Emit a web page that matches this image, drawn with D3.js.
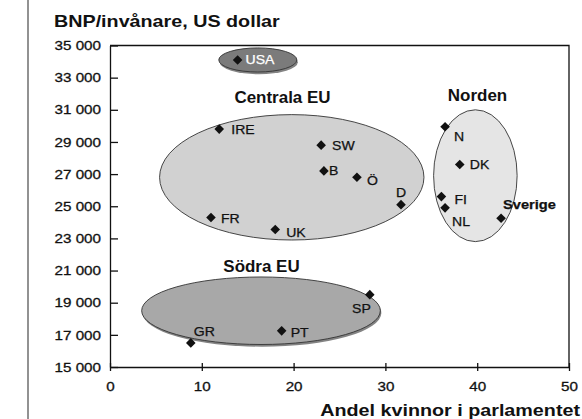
<!DOCTYPE html>
<html>
<head>
<meta charset="utf-8">
<script src="https://cdn.jsdelivr.net/npm/d3@7"></script>
<style>
  html, body { margin: 0; padding: 0; background: #fff; }
  svg { display: block; font-family: "Liberation Sans", Arial, sans-serif; }
  text { paint-order: stroke; }
</style>
</head>
<body>
<svg id="chart" width="582" height="419"></svg>
<script>
// GDP per capita vs. share of women in parliament
const countries    = ["USA", "IRE", "FR", "UK", "SW", "B", "Ö", "D", "N", "DK", "FI", "NL", "Sverige", "GR", "PT", "SP"];
const womenShare   = [13.9, 11.9, 11.0, 18.0, 23.0, 23.3, 26.9, 31.7, 36.5, 38.1, 36.1, 36.5, 42.6, 8.8, 18.7, 28.3];
const gdpPerCapita = [34100, 29800, 24300, 23550, 28800, 27200, 26800, 25100, 29950, 27600, 25600, 24900, 24250, 16500, 17250, 19500];

// Country groups, outlined by ellipses (centre and half-axes in data units)
const groupNames  = ["", "Centrala EU", "Norden", "Södra EU"];
const groupCx     = [16.1, 19.8, 39.8, 16.45];
const groupCy     = [34100, 26800, 26900, 18500];
const groupRx     = [4.25, 14.4, 4.55, 13.0];
const groupRy     = [750, 3900, 4100, 2100];

const xTicks = [0, 10, 20, 30, 40, 50];
const yTicks = [15000, 17000, 19000, 21000, 23000, 25000, 27000, 29000, 31000, 33000, 35000];
const yTickLabels = ["15 000", "17 000", "19 000", "21 000", "23 000", "25 000", "27 000", "29 000", "31 000", "33 000", "35 000"];

const titleText = "BNP/invånare, US dollar";
const xTitleText = "Andel kvinnor i parlamentet";

// ---- layout ----
const svg = d3.select("#chart");
const plotL = 110, plotR = 569, plotT = 45.5, plotB = 367;
const x = d3.scaleLinear().domain([0, 50]).range([plotL, plotR]);
const y = d3.scaleLinear().domain([15000, 35000]).range([plotB, plotT]);

// widen glyphs horizontally (the typeface used is set fairly wide);
// the text is re-anchored at its start so the widened run keeps its place
function stretch(sel, k) {
  sel.each(function () {
    const w = this.getComputedTextLength();
    const anchor = getComputedStyle(this).textAnchor;
    const x0 = +(this.getAttribute("x") || 0);
    const wide = w * k;
    let xs = x0;
    if (anchor === "end") xs = x0 - wide;
    else if (anchor === "middle") xs = x0 - wide / 2;
    this.setAttribute("x", xs);
    this.setAttribute("text-anchor", "start");
    this.style.textAnchor = "start";
    this.setAttribute("textLength", wide);
    this.setAttribute("lengthAdjust", "spacingAndGlyphs");
  });
}

// slightly heavier strokes on lettering
function ink(sel, wgt) {
  sel.attr("stroke", function () { return this.getAttribute("fill") || "#111"; })
     .attr("stroke-width", wgt);
}

// outer rule on the left
svg.append("line")
  .attr("x1", 28).attr("x2", 28).attr("y1", 0).attr("y2", 419)
  .attr("stroke", "#777").attr("stroke-width", 1.6);

// title
svg.append("text")
  .attr("x", 54).attr("y", 27)
  .attr("font-size", 17).attr("font-weight", "bold").attr("fill", "#111")
  .text(titleText)
  .call(stretch, 1.16);

// frame: top and right edges
svg.append("path")
  .attr("d", `M${plotL},${plotT}H${plotR}V${plotB}`)
  .attr("fill", "none").attr("stroke", "#111").attr("stroke-width", 1.3);

// y axis
const yAxis = svg.append("g")
  .attr("transform", `translate(${plotL},0)`)
  .call(d3.axisLeft(y).tickValues(yTicks)
    .tickFormat((d, i) => yTickLabels[i])
    .tickSizeInner(-8).tickSizeOuter(0).tickPadding(9));
yAxis.select(".domain").attr("stroke", "#111").attr("stroke-width", 1.3);
yAxis.selectAll(".tick line").attr("stroke", "#111").attr("stroke-width", 1.3);
yAxis.selectAll(".tick text")
  .attr("font-size", 13).attr("fill", "#111")
  .attr("font-family", "Liberation Sans, Arial, sans-serif")
  .call(stretch, 1.17).call(ink, 0.3);

// x axis, ticks crossing the line
const xAxis = svg.append("g")
  .attr("transform", `translate(0,${plotB})`)
  .call(d3.axisBottom(x).tickValues(xTicks)
    .tickSizeInner(4).tickSizeOuter(0).tickPadding(11));
xAxis.select(".domain").attr("stroke", "#111").attr("stroke-width", 1.3);
xAxis.selectAll(".tick line").attr("y1", -4).attr("stroke", "#111").attr("stroke-width", 1.3);
xAxis.selectAll(".tick text")
  .attr("font-size", 13).attr("fill", "#111")
  .attr("font-family", "Liberation Sans, Arial, sans-serif")
  .call(stretch, 1.17).call(ink, 0.3);

// x axis title
svg.append("text")
  .attr("x", 580).attr("y", 416).attr("text-anchor", "end")
  .attr("font-size", 17).attr("font-weight", "bold").attr("fill", "#111")
  .text(xTitleText)
  .call(stretch, 1.16);

// ---- group ellipses ----
const groupFill   = ["#7b7b7b", "#d1d1d1", "#e5e5e5", "#a8a8a8"];
const groupShadow = [true, false, false, true];
const groups = groupNames.map((name, i) => ({
  name, cx: groupCx[i], cy: groupCy[i], rx: groupRx[i], ry: groupRy[i],
  fill: groupFill[i], shadow: groupShadow[i]
}));

const gEll = svg.append("g");
groups.forEach(g => {
  const cx = x(g.cx), cy = y(g.cy);
  const rx = x(g.cx + g.rx) - cx, ry = cy - y(g.cy + g.ry);
  if (g.shadow) {
    gEll.append("ellipse")
      .attr("cx", cx + 1).attr("cy", cy + 2.2).attr("rx", rx).attr("ry", ry)
      .attr("fill", "#5a5a5a").attr("opacity", 0.75);
  }
  gEll.append("ellipse")
    .attr("cx", cx).attr("cy", cy).attr("rx", rx).attr("ry", ry)
    .attr("fill", g.fill).attr("stroke", "#333").attr("stroke-width", 0.9);
});

// group titles
const groupLabelPos = { "Centrala EU": [282.5, 103], "Norden": [477.5, 101], "Södra EU": [261.5, 272] };
groups.filter(g => g.name).forEach(g => {
  svg.append("text")
    .attr("x", groupLabelPos[g.name][0]).attr("y", groupLabelPos[g.name][1])
    .attr("text-anchor", "middle")
    .attr("font-size", 16).attr("font-weight", "bold").attr("fill", "#111")
    .text(g.name)
    .call(stretch, 1.06);
});

// ---- points ----
const points = countries.map((c, i) => ({ name: c, xv: womenShare[i], yv: gdpPerCapita[i] }));
const diamond = d3.symbol().type(d3.symbolSquare).size(46);

svg.append("g").selectAll("path")
  .data(points).join("path")
  .attr("d", diamond)
  .attr("transform", d => `translate(${x(d.xv)},${y(d.yv)}) rotate(45)`)
  .attr("fill", "#111");

// label offsets from each marker: [dx, dy, anchor]
const labelOffset = {
  "USA": [8, 4.5, "start"], "IRE": [12, 5, "start"], "FR": [10, 5, "start"], "UK": [11, 7, "start"],
  "SW": [11, 5, "start"], "B": [5, 4, "start"], "Ö": [10, 8, "start"], "D": [0, -8, "middle"],
  "N": [9, 14, "start"], "DK": [10, 5, "start"], "FI": [13, 7, "start"], "NL": [7, 18, "start"],
  "Sverige": [2, -9, "start"], "GR": [3, -7, "start"], "PT": [9, 6, "start"], "SP": [1, 18, "end"]
};

svg.append("g").selectAll("text")
  .data(points).join("text")
  .attr("x", d => x(d.xv) + labelOffset[d.name][0])
  .attr("y", d => y(d.yv) + labelOffset[d.name][1])
  .attr("text-anchor", d => labelOffset[d.name][2])
  .attr("font-size", d => d.name === "Sverige" ? 12.5 : 12)
  .attr("font-weight", d => d.name === "Sverige" ? "bold" : "normal")
  .attr("fill", d => d.name === "USA" ? "#fff" : "#111")
  .text(d => d.name)
  .call(stretch, 1.17).call(ink, 0.25);
</script>
</body>
</html>
